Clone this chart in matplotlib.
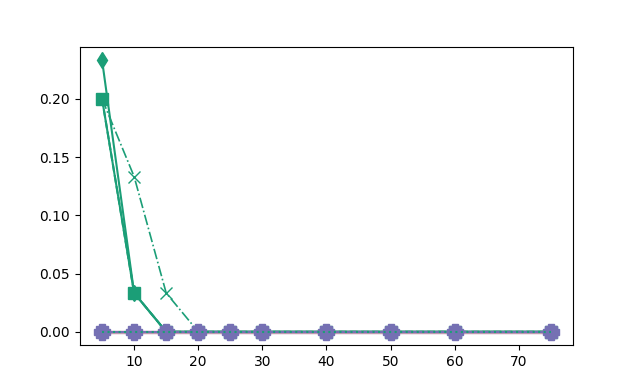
import numpy as np
import matplotlib
matplotlib.use('Agg')
import matplotlib.pyplot as plt

x = [5, 10, 15, 20, 25, 30, 40, 50, 60, 75]

# green series
diamond_vals = [0.2333, 0.0333, 0, 0, 0, 0, 0, 0, 0, 0]
square_vals = [0.2, 0.0333, 0, 0, 0, 0, 0, 0, 0, 0]
dashed_vals = [0.2, 0.0333, 0, 0, 0, 0, 0, 0, 0, 0]
cross_vals = [0.2, 0.1333, 0.0333, 0, 0, 0, 0, 0, 0, 0]
dotted_vals = [0, 0, 0, 0, 0, 0, 0, 0, 0, 0]

# purple series
purple_a = [0, 0, 0, 0, 0, 0, 0, 0, 0, 0]
purple_b = [0, 0, 0, 0, 0, 0, 0, 0, 0, 0]

green = '#1b9e77'
purple = '#7570b3'

fig, ax = plt.subplots(figsize=(6.37, 3.88), dpi=100)

ax.plot(x, dashed_vals, color=green, linestyle='--', lw=1.5)
ax.plot(x, cross_vals, color=green, linestyle='-.', marker='x', markersize=8, lw=1.2)
ax.plot(x, diamond_vals, color=green, linestyle='-', marker='d', markersize=8, lw=1.5)
ax.plot(x, square_vals, color=green, linestyle='-', marker='s', markersize=9, lw=1.5)
ax.plot(x, purple_a, color='#c69bb0', linestyle='-', lw=2.5)
ax.plot(x, purple_b, color=purple, linestyle='-', marker='P', markersize=11, lw=1.5)
ax.plot(x, purple_a, color=purple, linestyle='', marker='s', markersize=9)
ax.plot(x, dotted_vals, color=green, linestyle=':', lw=1.5)

ax.set_xticks([10, 20, 30, 40, 50, 60, 70])
ax.set_yticks([0.0, 0.05, 0.10, 0.15, 0.20])

fig.savefig('out.png', dpi=100)
